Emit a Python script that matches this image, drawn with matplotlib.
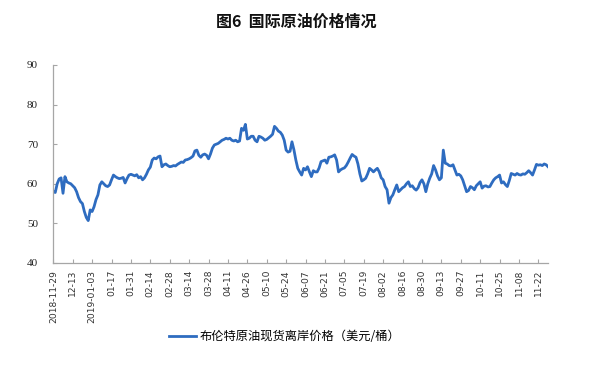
import numpy as np
import matplotlib
matplotlib.use("Agg")
import matplotlib.pyplot as plt

plt.rcParams['font.family'] = ['Noto Sans CJK SC', 'DejaVu Sans']

# Brent spot FOB price, USD/barrel, one value per trading day
brent = [
    58.0, 57.8, 60.0, 61.2, 61.5, 57.6, 61.8, 60.5, 60.2, 60.0,
    59.5, 59.0, 58.0, 56.5, 55.5, 55.0, 53.0, 51.5, 50.7, 53.4,
    53.0, 54.2, 56.0, 57.2, 59.7, 60.5, 60.0, 59.5, 59.3, 59.7,
    61.0, 62.2, 61.8, 61.5, 61.3, 61.4, 61.6, 60.2, 61.3, 62.2,
    62.4, 62.2, 62.0, 62.3, 61.5, 61.8, 61.0, 61.5, 62.4, 63.5,
    64.2, 66.0, 66.5, 66.3, 66.8, 67.0, 64.3, 64.8, 65.0, 64.6,
    64.3, 64.4, 64.6, 64.5, 64.9, 65.2, 65.5, 65.4, 66.0, 66.1,
    66.3, 66.6, 67.0, 68.3, 68.5, 67.2, 66.7, 67.3, 67.5, 67.2,
    66.3, 67.5, 69.0, 69.8, 70.0, 70.2, 70.6, 71.0, 71.2, 71.5,
    71.3, 71.5, 71.0, 70.8, 71.0, 70.6, 70.8, 74.0, 73.5, 75.0,
    71.3, 71.5, 72.0, 72.0, 71.0, 70.6, 72.0, 71.8, 71.5, 71.0,
    71.2, 71.6, 72.0, 72.5, 74.5, 74.0, 73.3, 73.0, 72.3, 71.0,
    68.5, 68.0, 68.2, 70.6, 68.6, 66.0, 63.9, 63.0, 62.2, 63.9,
    63.5, 64.3, 63.0, 61.8, 63.3, 63.0, 63.0, 64.0, 65.6, 65.8,
    66.0, 65.2, 66.7, 66.8, 67.0, 67.3, 66.0, 63.0, 63.5, 63.8,
    64.0, 64.6, 65.5, 66.5, 67.4, 67.0, 66.7, 65.0, 62.5, 60.7,
    61.0, 61.4, 62.5, 63.9, 63.5, 63.0, 63.5, 63.9, 63.0, 61.5,
    61.0, 59.3, 58.5, 55.1, 56.5, 57.2, 58.5, 59.7, 58.0, 58.5,
    59.0, 59.3, 60.0, 60.5, 59.3, 59.5, 58.8, 58.4, 59.0, 60.3,
    61.0, 60.0, 58.0, 60.0, 61.4, 62.5, 64.6, 63.5, 62.0, 61.0,
    61.5, 68.5, 65.2, 65.0, 64.6, 64.5, 64.8, 63.5, 62.2, 62.4,
    62.0, 61.0, 59.5, 58.0, 58.3, 59.3, 59.0, 58.5, 59.5, 60.0,
    60.5, 58.9, 59.4, 59.5, 59.2, 59.3, 60.2, 61.0, 61.5, 61.8,
    62.2, 60.2, 60.5, 59.8, 59.3, 60.8, 62.6, 62.4, 62.2, 62.6,
    62.3, 62.2, 62.5, 62.4, 62.8, 63.3, 62.8, 62.2, 63.5, 64.9,
    64.7, 64.8, 64.6, 65.0, 64.8, 64.3,
]

# category labels shown every 10 trading days
tick_labels = ['2018-11-29', '12-13', '2019-01-03', '01-17', '01-31', '02-14',
               '02-28', '03-14', '03-28', '04-11', '04-26', '05-10', '05-24',
               '06-07', '06-21', '07-05', '07-19', '08-02', '08-16', '08-30',
               '09-13', '09-27', '10-11', '10-25', '11-08', '11-22']

y_ticks = [40, 50, 60, 70, 80, 90]

fig = plt.figure(figsize=(5.99, 3.65), dpi=100)
ax = fig.add_axes([0.089, 0.2795, 0.826, 0.5425])

x = np.arange(len(brent))
ax.plot(x, brent, color='#2E6CC0', lw=2.0, solid_joinstyle='round',
        label='布伦特原油现货离岸价格（美元/桶）')

ax.set_xlim(0, len(brent) - 1)
ax.set_ylim(40, 90)
ax.set_yticks(y_ticks)
ax.set_yticklabels([str(v) for v in y_ticks], family='Liberation Serif', fontsize=8)
ax.set_xticks(np.arange(len(tick_labels)) * 10)
ax.set_xticklabels(tick_labels, rotation=90, family='DejaVu Sans', fontsize=6.6,
                   color='#333333')

for s in ['top', 'right']:
    ax.spines[s].set_visible(False)
for s in ['left', 'bottom']:
    ax.spines[s].set_color('#A6A6A6')
    ax.spines[s].set_linewidth(0.9)

ax.tick_params(axis='y', direction='in', length=3, pad=11, color='#A6A6A6',
               labelcolor='#222222')
ax.tick_params(axis='x', direction='in', length=3, pad=5, color='#A6A6A6')

fig.text(0.494, 0.94, '图6  国际原油价格情况', ha='center', va='center',
         fontsize=11.5, fontweight='bold', color='#111111')

fig.legend(loc='center', bbox_to_anchor=(0.476, 0.077), frameon=False,
           fontsize=8.8, handlelength=2.2, handletextpad=0.3)

fig.savefig('out.png', dpi=100)
